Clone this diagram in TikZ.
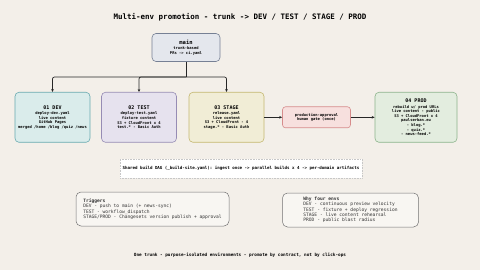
\documentclass[tikz,border=0pt]{standalone}
\usepackage{fontspec}
\setmonofont{DejaVu Sans Mono}
\usetikzlibrary{positioning,arrows.meta}
\definecolor{paper}{RGB}{243,239,233}
\definecolor{mainfill}{RGB}{228,231,237}
\definecolor{mainline}{RGB}{118,128,148}
\definecolor{devfill}{RGB}{218,236,235}
\definecolor{devline}{RGB}{104,170,176}
\definecolor{testfill}{RGB}{230,226,238}
\definecolor{testline}{RGB}{150,140,180}
\definecolor{stagefill}{RGB}{241,237,214}
\definecolor{stageline}{RGB}{196,184,112}
\definecolor{gatefill}{RGB}{247,224,222}
\definecolor{gateline}{RGB}{214,140,140}
\definecolor{prodfill}{RGB}{227,237,223}
\definecolor{prodline}{RGB}{140,180,140}
\definecolor{notefill}{RGB}{248,246,242}
\newcommand{\titlefont}{\fontsize{7.5}{9}\selectfont\ttfamily\bfseries}
\newcommand{\envfont}{\fontsize{3.8}{4.6}\selectfont\ttfamily\bfseries}
\newcommand{\notefont}{\fontsize{4.6}{5.3}\selectfont\ttfamily}
\newcommand{\envhead}[1]{{\fontsize{5}{6}\selectfont #1}\\[0.9pt]}
\tikzset{
  link/.style    = {line width=0.7pt, draw=black!85, rounded corners=2pt},
  arr/.style     = {link, -{Stealth[length=3pt,width=2.6pt]}},
  env/.style     = {draw, line width=0.6pt, rounded corners=4pt, inner sep=1pt,
                    align=center, font=\envfont, minimum height=50pt},
  mainbox/.style = {env, draw=mainline, fill=mainfill, minimum width=68pt,
                    minimum height=28pt},
  devbox/.style  = {env, draw=devline, fill=devfill, minimum width=75pt},
  testbox/.style = {env, draw=testline, fill=testfill, minimum width=75pt},
  stagebox/.style= {env, draw=stageline, fill=stagefill, minimum width=75pt},
  gatebox/.style = {env, draw=gateline, fill=gatefill, minimum width=68pt,
                    minimum height=21pt, rounded corners=3pt},
  prodbox/.style = {env, draw=prodline, fill=prodfill, minimum width=82pt},
  dagbox/.style  = {draw=black!22, densely dotted, fill=white,
                    line width=0.6pt, minimum width=242pt, minimum height=19pt,
                    inner sep=1pt, font=\fontsize{4.14}{5}\selectfont\ttfamily\bfseries},
  notebox/.style = {draw=black!55, fill=notefill, line width=0.5pt,
                    rounded corners=5pt, align=left, inner sep=1pt,
                    minimum height=34pt, font=\notefont, text=black!80},
  lbl/.style     = {inner sep=1pt},
}
\begin{document}
\begin{tikzpicture}[x=1pt,y=-1pt]
  \useasboundingbox[fill=paper] (0,0) rectangle (480,270);
  % header
  \node[lbl, font=\titlefont] (title) at (240,17.5)
    {Multi-env promotion - trunk -> DEV / TEST / STAGE / PROD};
  \node[mainbox] (main) at (186,47.5)
    {{\fontsize{5.5}{6}\selectfont main}\\[1pt]trunk-based\\PRs -> ci.yaml};
  % environments
  \node[devbox] (dev) at (52.5,117.3)
    {\envhead{01 DEV}deploy-dev.yaml\\live content\\GitHub Pages\\merged /home /blog /quiz /news};
  \node[testbox] (test) at (139,117.3)
    {\envhead{02 TEST}deploy-test.yaml\\fixture content\\S3 + CloudFront x 4\\test.* - Basic Auth};
  \node[stagebox] (stage) at (226.5,117.3)
    {\envhead{03 STAGE}release.yaml\\live content\\S3 + CloudFront - 4\\stage.* - Basic Auth};
  \node[gatebox] (gate) at (316.5,117.3) {production-approval\\human gate (once)};
  \node[prodbox] (prod) at (416,117.3)
    {\envhead{04 PROD}rebuild w/ prod URLs\\live content - public\\S3 + CloudFront x 4\\paulserban.eu\\- blog.*\\- quiz.*\\- news-feed.*};
  % fan-out from trunk
  \coordinate (fork) at (186,77);
  \draw[link] (main.south) -- (fork);
  \draw[arr] (fork) -| (dev.north);
  \draw[arr] (fork) -| (test.north);
  \draw[arr] (fork) -| (stage.north);
  \draw[arr] (stage.east) -- (gate.west);
  \draw[arr] (gate.east) -- (prod.west);
  % shared build
  \node[dagbox] (dag) at (241,168.5)
    {Shared build DAG (\_build-site.yaml): ingest once -> parallel builds x 4 -> per-domain artifacts};
  % notes
  \node[notebox, minimum width=153pt] (trig) at (152.5,209)
    {\textbf{Triggers}\\DEV - push to main (+ news-sync)\\TEST - workflow\_dispatch\\STAGE/PROD - Changesets version publish + approval};
  \node[notebox, minimum width=136pt] (why) at (350.5,210)
    {\textbf{Why four envs}\\DEV - continuous preview velocity\\TEST - fixture + deploy regression\\STAGE - live content rehearsal\\PROD - public blast radius};
  \node[lbl, font=\fontsize{4.35}{5}\selectfont\ttfamily\bfseries] (foot) at (240,255.3)
    {One trunk - purpose-isolated environments - promote by contract, not by click-ops};
\end{tikzpicture}
\end{document}
